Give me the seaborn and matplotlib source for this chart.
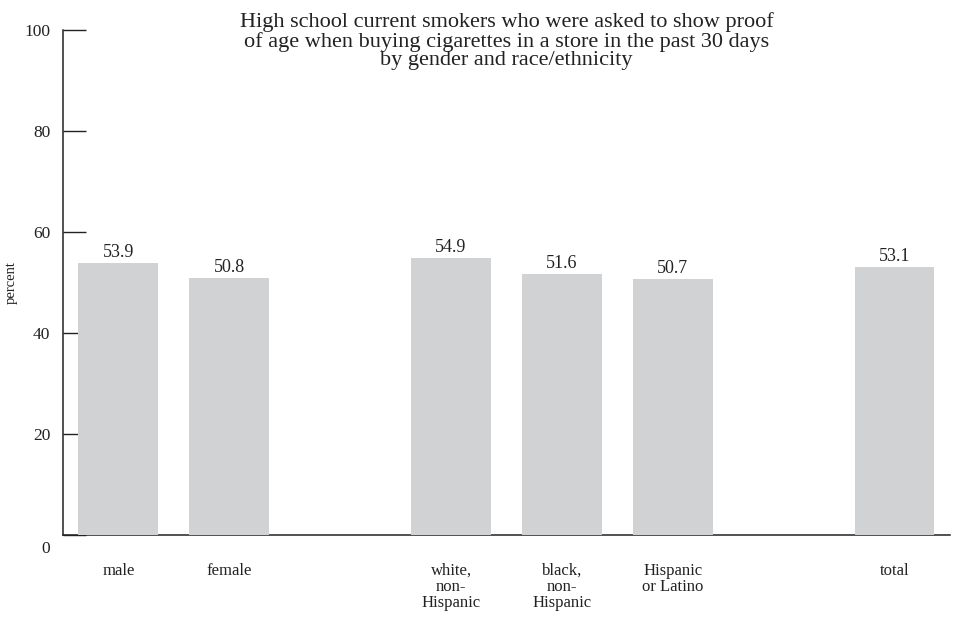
import matplotlib
matplotlib.use('Agg')
import matplotlib.pyplot as plt
import matplotlib.transforms as mtransforms
import seaborn as sns
import pandas as pd

# Dados
categorias = ['male', 'female', 'white,\nnon-\nHispanic', 'black,\nnon-\nHispanic',
              'Hispanic\nor Latino', 'total']
valores = [53.9, 50.8, 54.9, 51.6, 50.7, 53.1]
# espaços vazios entre os grupos
ordem = ['male', 'female', ' ', 'white,\nnon-\nHispanic', 'black,\nnon-\nHispanic',
         'Hispanic\nor Latino', '  ', 'total']
yticks = [0, 20, 40, 60, 80, 100]
titulo = ('High school current smokers who were asked to show proof\n'
          'of age when buying cigarettes in a store in the past 30 days\n'
          'by gender and race/ethnicity')

df = pd.DataFrame({'grupo': categorias, 'percent': valores})

sns.set_style('white')
plt.rcParams['font.family'] = ['Liberation Serif', 'DejaVu Serif']

fig = plt.figure(figsize=(9.54, 6.17), dpi=100)
ax = fig.add_axes([0.066, 0.133, 0.9298, 0.8185])

sns.barplot(data=df, x='grupo', y='percent', order=ordem, color='#d1d2d4',
            saturation=1, width=0.72, linewidth=0, ax=ax, zorder=3)

for c in ax.containers:
    ax.bar_label(c, fmt='%.1f', padding=1.5, fontsize=13, color='#222222')

ax.set_ylim(0, 100)
ax.set_xlim(-0.5, 7.5)
ax.set_yticks(yticks)
ax.set_xlabel('')
ax.set_ylabel('percent', fontsize=10.5, labelpad=5, color='#222222')

sns.despine(ax=ax, top=True, right=True)
for s in ['left', 'bottom']:
    ax.spines[s].set_color('#222222')
    ax.spines[s].set_linewidth(1.1)
ax.spines['bottom'].set_zorder(1)

ax.tick_params(axis='y', left=True, direction='in', length=16.5, width=1.0,
               color='#222222', pad=9, labelsize=12.5, labelcolor='#222222')
ax.tick_params(axis='x', bottom=False, length=0, pad=20, labelsize=12,
               labelcolor='#222222')
for lab in ax.get_xticklabels():
    lab.set_linespacing(1.0)
    lab.set_va('top')

# o rótulo 0 fica um pouco abaixo do eixo
lab0 = ax.get_yticklabels()[0]
lab0.set_transform(lab0.get_transform() +
                   mtransforms.ScaledTranslation(0, -9 / 72, fig.dpi_scale_trans))

fig.text(0.531, 0.98, titulo, ha='center', va='top', fontsize=16,
         linespacing=0.97, color='#222222')

fig.savefig('out.png', dpi=100)
